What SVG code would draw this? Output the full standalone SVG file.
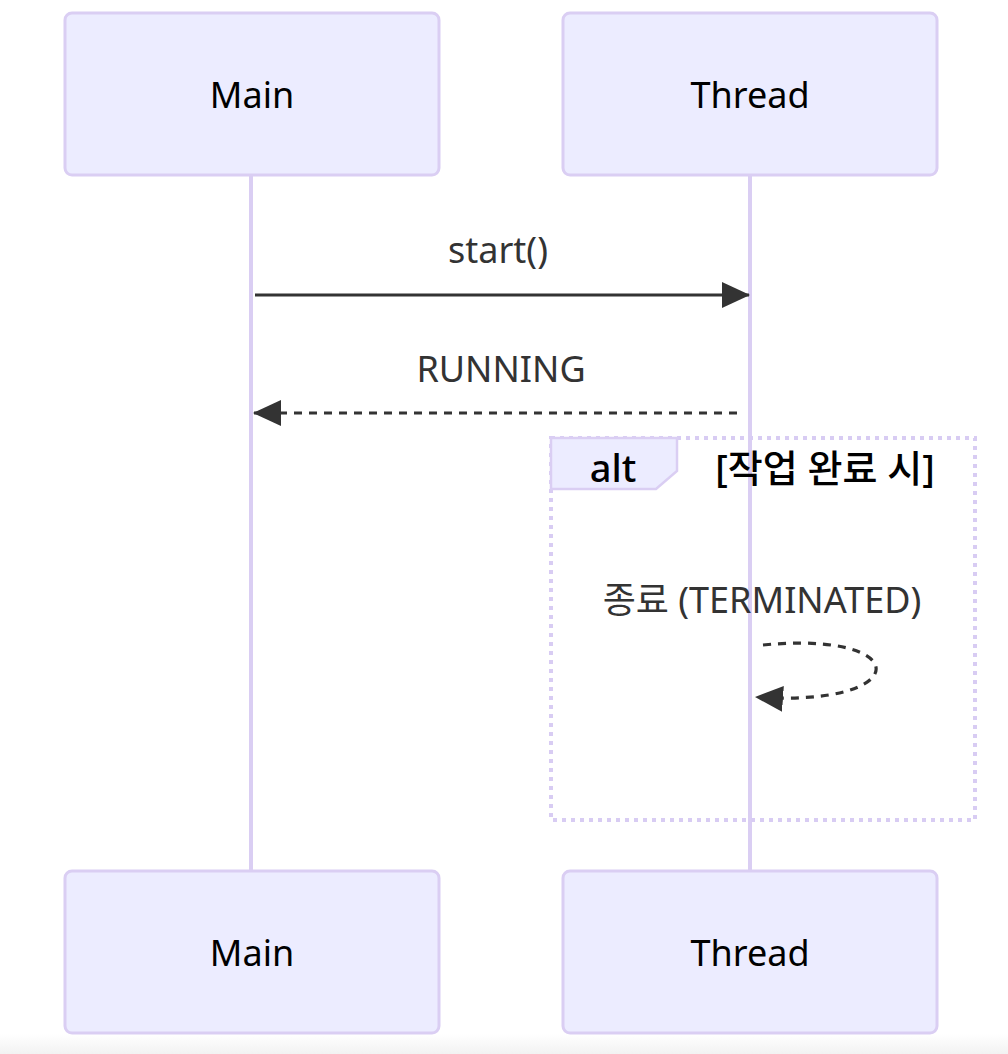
<svg xmlns="http://www.w3.org/2000/svg" width="1008" height="1054" viewBox="0 0 1008 1054">
  <defs>
    <style>
      .actor { fill: #ECECFF; stroke: #DACEF3; stroke-width: 3; }
      .actor-text { font-family: "Noto Sans", "Open Sans", "Noto Sans CJK KR", sans-serif; font-size: 36px; fill: #000; text-anchor: middle; }
      .lifeline { stroke: #DACEF3; stroke-width: 4; fill: none; }
      .msg-text { font-family: "Noto Sans", "Open Sans", "Noto Sans CJK KR", sans-serif; font-size: 36px; fill: #333; text-anchor: middle; }
      .msg { stroke: #333; stroke-width: 3.2; fill: none; }
      .dashed { stroke-dasharray: 8 7; }
      .loop-box { fill: none; stroke: #D8CCF3; stroke-width: 4; stroke-dasharray: 4 5; }
      .label-box { fill: #ECECFF; stroke: #DACEF3; stroke-width: 2.5; }
      .label-text { font-family: "Noto Sans", "Open Sans", "Noto Sans CJK KR", sans-serif; font-size: 38px; font-weight: 500; fill: #000; text-anchor: middle; }
    </style>
    <marker id="arrow" viewBox="0 0 28 26" refX="27" refY="13" markerWidth="28" markerHeight="26" markerUnits="userSpaceOnUse" orient="auto">
      <path d="M0,0 L28,13 L0,26 Z" fill="#333"/>
    </marker>
    <linearGradient id="bottomShade" x1="0" y1="0" x2="0" y2="1">
      <stop offset="0" stop-color="#ffffff"/>
      <stop offset="1" stop-color="#f2f2f2"/>
    </linearGradient>
  </defs>
  <rect x="0" y="0" width="1008" height="1054" fill="#ffffff"/>
  <rect x="0" y="1034" width="1008" height="20" fill="url(#bottomShade)"/>

  <g id="lifelines">
    <line class="lifeline" x1="251" y1="175" x2="251" y2="871"/>
    <line class="lifeline" x1="750" y1="175" x2="750" y2="871"/>
  </g>

  <g id="alt-block">
    <rect class="loop-box" x="551" y="438" width="424" height="382"/>
    <path class="label-box" d="M551,438 L677,438 L677,471 L656,489 L551,489 Z"/>
    <text class="label-text" x="613" y="482">alt</text>
    <text class="label-text" x="825" y="482">[작업 완료 시]</text>
  </g>

  <g id="actor-main-top">
    <rect class="actor" x="65" y="13" width="374" height="162" rx="7"/>
    <text class="actor-text" x="252" y="108">Main</text>
  </g>
  <g id="actor-thread-top">
    <rect class="actor" x="563" y="13" width="374" height="162" rx="7"/>
    <text class="actor-text" x="750" y="108">Thread</text>
  </g>
  <g id="actor-main-bottom">
    <rect class="actor" x="65" y="871" width="374" height="162" rx="7"/>
    <text class="actor-text" x="252" y="966">Main</text>
  </g>
  <g id="actor-thread-bottom">
    <rect class="actor" x="563" y="871" width="374" height="162" rx="7"/>
    <text class="actor-text" x="750" y="966">Thread</text>
  </g>

  <g id="connectors">
    <line class="msg" x1="255" y1="295" x2="749" y2="295" marker-end="url(#arrow)"/>
    <text class="msg-text" x="498" y="263">start()</text>
    <line class="msg dashed" x1="737" y1="413" x2="254" y2="413" marker-end="url(#arrow)"/>
    <text class="msg-text" x="501" y="382">RUNNING</text>
    <path class="msg dashed" d="M763,645 C915,630 915,708 756,697" marker-end="url(#arrow)"/>
    <text class="msg-text" x="762" y="613">종료 (TERMINATED)</text>
  </g>
</svg>
